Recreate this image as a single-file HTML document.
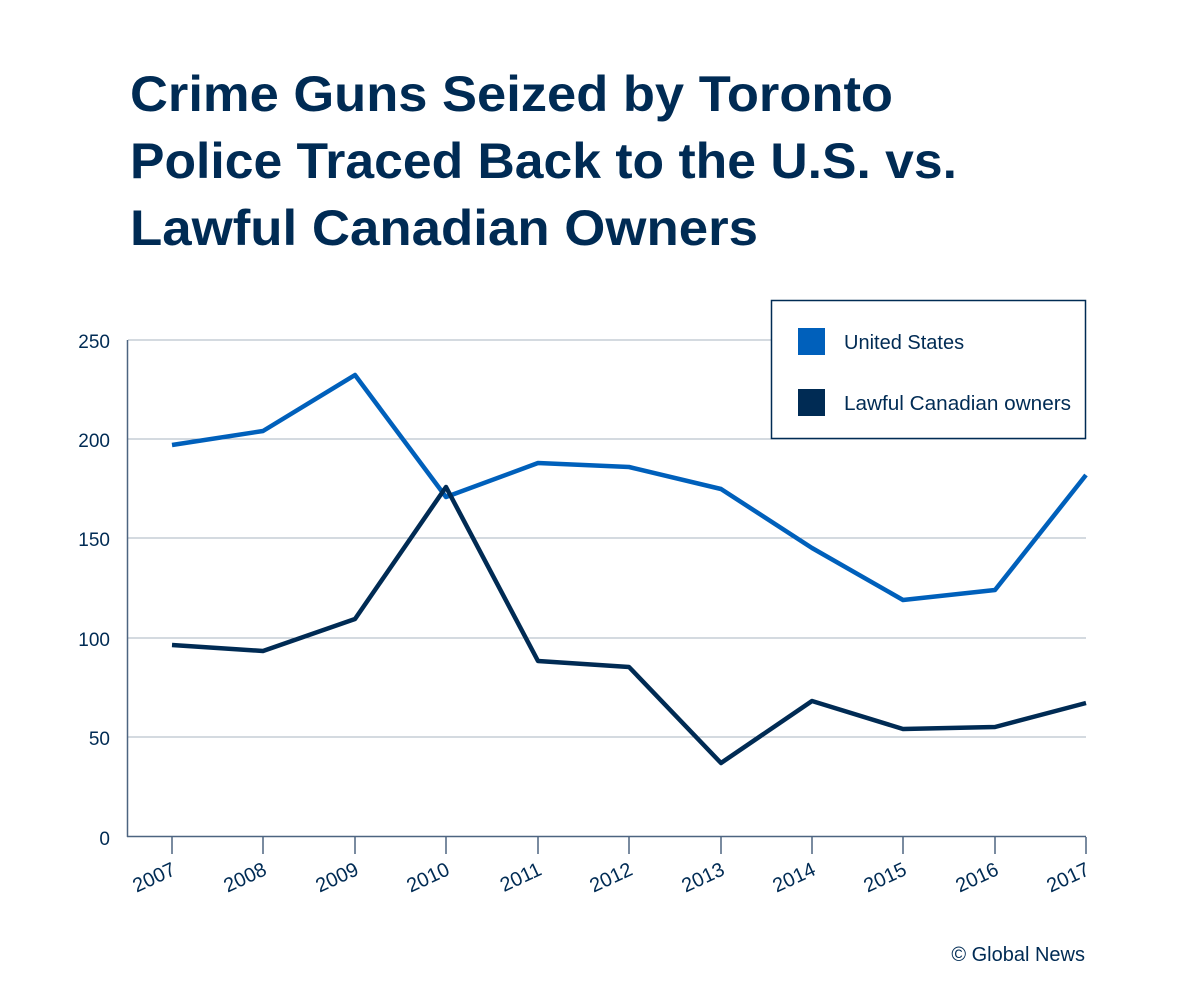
<!DOCTYPE html>
<html><head><meta charset="utf-8"><style>
html,body{margin:0;padding:0;background:#fff;}
svg{display:block;font-family:"Liberation Sans",sans-serif;}
</style></head><body>
<svg width="1200" height="1006" viewBox="0 0 1200 1006">
<rect width="1200" height="1006" fill="#fff"/>
<g fill="#002b54" font-weight="bold" font-size="50">
<text x="130" y="111" textLength="763" lengthAdjust="spacingAndGlyphs">Crime Guns Seized by Toronto</text>
<text x="130" y="178" textLength="827" lengthAdjust="spacingAndGlyphs">Police Traced Back to the U.S. vs.</text>
<text x="130" y="245" textLength="628" lengthAdjust="spacingAndGlyphs">Lawful Canadian Owners</text>
</g>
<g stroke="#a9b4c2" stroke-width="1">
<line x1="128" y1="340" x2="1086" y2="340"/>
<line x1="128" y1="439" x2="1086" y2="439"/>
<line x1="128" y1="538" x2="1086" y2="538"/>
<line x1="128" y1="638" x2="1086" y2="638"/>
<line x1="128" y1="737" x2="1086" y2="737"/>
</g>
<g stroke="#4d6480" stroke-width="1.5">
<line x1="127.5" y1="340" x2="127.5" y2="837"/>
<line x1="127" y1="836.5" x2="1086" y2="836.5"/>
<line x1="172" y1="837" x2="172" y2="854"/>
<line x1="263" y1="837" x2="263" y2="854"/>
<line x1="355" y1="837" x2="355" y2="854"/>
<line x1="446" y1="837" x2="446" y2="854"/>
<line x1="538" y1="837" x2="538" y2="854"/>
<line x1="629" y1="837" x2="629" y2="854"/>
<line x1="721" y1="837" x2="721" y2="854"/>
<line x1="812" y1="837" x2="812" y2="854"/>
<line x1="903" y1="837" x2="903" y2="854"/>
<line x1="995" y1="837" x2="995" y2="854"/>
<line x1="1086" y1="837" x2="1086" y2="854"/>
</g>
<g fill="#002b54" font-size="19" text-anchor="end">
<text x="110" y="348">250</text>
<text x="110" y="447">200</text>
<text x="110" y="546">150</text>
<text x="110" y="646">100</text>
<text x="110" y="745">50</text>
<text x="110" y="845">0</text>
</g>
<g fill="#002b54" font-size="20" text-anchor="end">
<text transform="translate(177,874) rotate(-25)">2007</text>
<text transform="translate(268,874) rotate(-25)">2008</text>
<text transform="translate(360,874) rotate(-25)">2009</text>
<text transform="translate(451,874) rotate(-25)">2010</text>
<text transform="translate(543,874) rotate(-25)">2011</text>
<text transform="translate(634,874) rotate(-25)">2012</text>
<text transform="translate(726,874) rotate(-25)">2013</text>
<text transform="translate(817,874) rotate(-25)">2014</text>
<text transform="translate(908,874) rotate(-25)">2015</text>
<text transform="translate(1000,874) rotate(-25)">2016</text>
<text transform="translate(1091,874) rotate(-25)">2017</text>
</g>
<polyline fill="none" stroke="#0060bb" stroke-width="4.5" stroke-linejoin="round" points="172,445 263,431 355,375 446,497 538,463 629,467 721,489 812,548 903,600 995,590 1086,475"/>
<polyline fill="none" stroke="#002b54" stroke-width="4.5" stroke-linejoin="round" points="172,645 263,651 355,619 446,487 538,661 629,667 721,763 812,701 903,729 995,727 1086,703"/>
<rect x="771.5" y="300.5" width="314" height="138" fill="#fff" stroke="#002b54" stroke-width="1.5"/>
<rect x="798" y="328" width="27" height="27" fill="#0060bb"/>
<rect x="798" y="389" width="27" height="27" fill="#002b54"/>
<g fill="#002b54" font-size="20">
<text x="844" y="349">United States</text>
<text x="844" y="410" textLength="227" lengthAdjust="spacingAndGlyphs">Lawful Canadian owners</text>
<text x="1085" y="961" text-anchor="end">© Global News</text>
</g>
</svg>
</body></html>
